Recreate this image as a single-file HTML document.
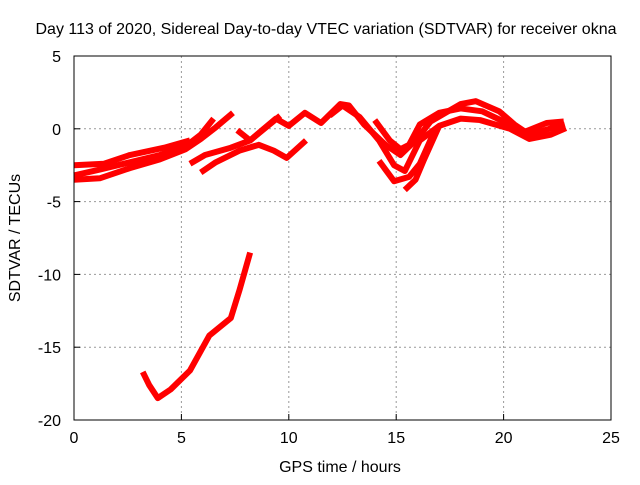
<!DOCTYPE html>
<html><head><meta charset="utf-8"><style>
body{margin:0;background:#fff;width:640px;height:480px;overflow:hidden}
svg text{font-family:"Liberation Sans",sans-serif;font-size:16px;fill:#000}
</style></head><body>
<svg id="chart" width="640" height="480" xmlns="http://www.w3.org/2000/svg">
<text x="326" y="34" text-anchor="middle">Day 113 of 2020, Sidereal Day-to-day VTEC variation (SDTVAR) for receiver okna</text>
<text x="340" y="472" text-anchor="middle">GPS time / hours</text>
<text transform="translate(20,238) rotate(-90)" text-anchor="middle">SDTVAR / TECUs</text>
<g id="grid"></g>
<g id="ticks"></g>
<g id="series"></g>
<rect x="74" y="56" width="537" height="364" fill="none" stroke="#000" stroke-width="1"/>
</svg>
<script>
const xTicks=[0,5,10,15,20,25];
const yTicks=[5,0,-5,-10,-15,-20];
const traceA=[[0,-3.2],[1.2,-2.8],[2.6,-2.3],[4,-1.8],[5.2,-1.2],[5.9,-0.4],[6.5,0.7]];
const traceB=[[0,-3.5],[1.2,-3.4],[2.6,-2.7],[4,-2.1],[5.2,-1.4],[5.9,-0.7],[6.6,0.1],[7.4,1.1]];
const traceC=[[0,-2.5],[1.4,-2.4],[2.6,-1.8],[4.2,-1.3],[5.4,-0.8]];
const traceD=[[5.4,-2.4],[6.1,-1.8],[7.3,-1.3],[8.2,-0.8],[8.9,0.05],[9.6,0.9]];
const traceE=[[5.9,-3],[6.6,-2.3],[7.7,-1.5],[8.6,-1.1],[9.3,-1.5],[9.9,-2],[10.8,-0.8]];
const traceF=[[7.6,-0.1],[8.2,-0.8],[8.75,-0.1],[9.4,0.7],[10,0.2],[10.75,1.1],[11.5,0.4],[12.4,1.7],[12.8,1.6],[13.5,0.3],[14.5,-1.1],[15.2,-1.8],[15.9,-0.8],[16.6,0.5],[18,1.7],[18.7,1.9],[19.8,1.2],[20.5,0.3],[21.2,-0.4],[21.9,-0.1],[22.85,0.3]];
const traceG=[[11.9,0.9],[12.5,1.6],[13.3,0.8],[14.2,-0.8],[14.9,-2.5],[15.4,-2.9],[16.1,-0.8],[17,0.2],[18,0.7],[18.9,0.6],[20.3,0],[21.2,-0.7],[22.2,-0.4],[22.9,0.05]];
const traceH=[[14.2,-2.2],[14.9,-3.6],[15.6,-3.3],[16.1,-2.4],[16.8,-0.1]];
const traceI=[[15.4,-4.2],[15.9,-3.5],[16.3,-2.1],[17,0.2]];
const traceJ=[[14,0.6],[14.7,-0.8],[15.2,-1.4],[15.6,-1.1],[16.1,0.3],[17,1.1],[18,1.4],[19,1.2],[20,0.5],[21,-0.2],[22,0.4],[22.8,0.5]];
const traceK=[[3.2,-16.7],[3.5,-17.6],[3.9,-18.5],[4.5,-17.9],[5.4,-16.6],[6.3,-14.2],[7.3,-13],[7.7,-11.1],[8.2,-8.5]];
const traces=[traceA,traceB,traceC,traceD,traceE,traceF,traceG,traceH,traceI,traceJ,traceK];
const X=v=>74+v*537/25, Y=v=>56+(5-v)*364/25;
const NS="http://www.w3.org/2000/svg";
const grid=document.getElementById('grid'),ticks=document.getElementById('ticks'),ser=document.getElementById('series');
function mk(tag,attrs,parent){const e=document.createElementNS(NS,tag);for(const k in attrs)e.setAttribute(k,attrs[k]);parent.appendChild(e);return e;}
xTicks.forEach(t=>{const x=X(t);
 if(t>0&&t<25){const g=mk('line',{x1:x,x2:x,y1:56,y2:420,stroke:'#999','stroke-dasharray':'2,3'},grid);}
 const l=mk('line',{x1:x,x2:x,y1:420,y2:414,stroke:'#000'},ticks);
 const tx=mk('text',{x:x,y:443,'text-anchor':'middle'},ticks);tx.textContent=t;});
yTicks.forEach(t=>{const y=Y(t);
 if(t<5&&t>-20){const g=mk('line',{x1:74,x2:611,y1:y,y2:y,stroke:'#999','stroke-dasharray':'2,3'},grid);}
 const l=mk('line',{x1:74,x2:80,y1:y,y2:y,stroke:'#000'},ticks);
 const tx=mk('text',{x:61,y:y+6,'text-anchor':'end'},ticks);tx.textContent=t;});
traces.forEach((tr,i)=>{const p=mk('polyline',{points:tr.map(d=>X(d[0])+','+Y(d[1])).join(' '),fill:'none',stroke:'#f00','stroke-width':6,'stroke-linejoin':'round'},ser);
 
 });
</script>
</body></html>
